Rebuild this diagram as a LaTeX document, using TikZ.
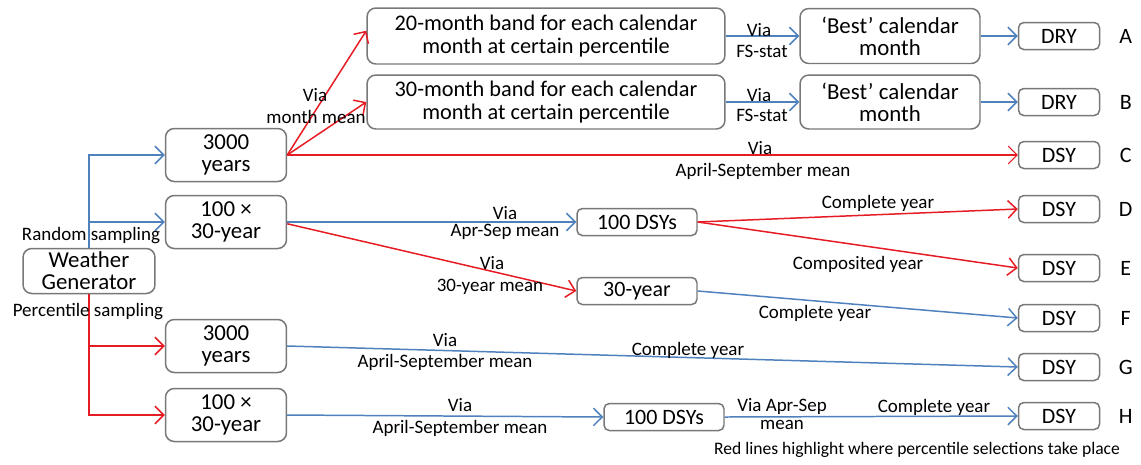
\documentclass[tikz,border=0pt]{standalone}
\usepackage{fontspec}
\setmainfont{Carlito}
\usetikzlibrary{arrows.meta}
\definecolor{lineblue}{RGB}{79,129,189}
\definecolor{linered}{RGB}{230,28,36}
\definecolor{boxgray}{RGB}{120,120,120}
\newcommand{\fs}[2]{\fontsize{#1}{#2}\selectfont}

\begin{document}
\begin{tikzpicture}[x=0.02cm,y=-0.02cm,>={Straight Barb[length=5pt,width=10pt]},
                    line width=0.85pt]
  \tikzstyle{box}=[draw=boxgray,rounded corners=5pt,align=center,inner sep=0pt,
                   text=black,font=\fs{13}{12.4}]
  \tikzstyle{srcbox}=[box,minimum width=2.42cm,minimum height=1.06cm]
  \tikzstyle{outbox}=[box,rounded corners=3pt,minimum width=1.62cm,minimum height=0.54cm,font=\fs{12.5}{12}]
  \tikzstyle{lbl}=[inner sep=0pt,align=center,font=\fs{10.8}{12}]
  \tikzstyle{blu}=[->,draw=lineblue]
  \tikzstyle{rd}=[->,draw=linered]
  \useasboundingbox (0,0) rectangle (1141,464);

  % sources
  \node[box,minimum width=2.64cm,minimum height=0.9cm] (wg) at (89,271) {Weather\\Generator};
  \node[srcbox] (r3k)  at (226,155) {3000\\years};
  \node[srcbox] (r100) at (226,222) {100 ×\\30-year};
  \node[srcbox] (p3k)  at (226,346) {3000\\years};
  \node[srcbox] (p100) at (226,415) {100 ×\\30-year};

  % intermediate steps
  \node[box,minimum width=7.16cm,minimum height=1.12cm,font=\fs{12.7}{12.8}] (band20) at (546,36) {20-month band for each calendar\\month at certain percentile};
  \node[box,minimum width=7.16cm,minimum height=1.08cm,font=\fs{12.7}{12.8}] (band30) at (546,102) {30-month band for each calendar\\month at certain percentile};
  \node[box,minimum width=3.6cm,minimum height=1.1cm,font=\fs{13}{12.4}] (bestA) at (890,36) {‘Best’ calendar\\month};
  \node[box,minimum width=3.6cm,minimum height=1.08cm,font=\fs{13}{12.4}] (bestB) at (890,102) {‘Best’ calendar\\month};
  \node[outbox,minimum width=2.4cm] (dsys)  at (637,222) {100 DSYs};
  \node[outbox,minimum width=2.4cm] (y30)   at (637,291) {30-year};
  \node[outbox,minimum width=2.4cm] (dsysH) at (664,417) {100 DSYs};

  % outputs
  \node[outbox] (A) at (1059,36)  {DRY};
  \node[outbox] (B) at (1059,102) {DRY};
  \node[outbox] (C) at (1059,155) {DSY};
  \node[outbox] (D) at (1059,209) {DSY};
  \node[outbox] (E) at (1059,268) {DSY};
  \node[outbox] (F) at (1059,318) {DSY};
  \node[outbox] (G) at (1059,367) {DSY};
  \node[outbox] (H) at (1059,416) {DSY};
  \foreach \n in {A,B,C,D,E,F,G,H}
    \node[font=\fs{12.5}{12}] at ([xshift=14.5pt]\n.east) {\n};

  % sampling
  \draw[blu] (wg.north) |- (r3k.west);
  \draw[blu] (wg.north) |- (r100.west);
  \draw[rd] (wg.south) |- (p3k.west);
  \draw[rd] (wg.south) |- (p100.west);
  \node[lbl] at (91,236) {Random sampling};
  \node[lbl] at (88,312) {Percentile sampling};

  % random branch
  \draw[rd] (r3k.east) -- ([yshift=3pt]band20.west);
  \draw[rd] (r3k.east) -- (band30.west);
  \node[lbl] at (315,95) {Via};
  \node[lbl] at (316,117) {month mean};
  \draw[blu] (band20) -- (bestA);
  \draw[blu] (band30) -- (bestB);
  \node[lbl] at (759,30) {Via};
  \node[lbl] at (762,51) {FS-stat};
  \node[lbl] at (759,95) {Via};
  \node[lbl] at (762,115) {FS-stat};
  \draw[blu] (bestA) -- (A);
  \draw[blu] (bestB) -- (B);
  \draw[rd,line width=0.6pt] (r3k.east) -- (C.west);
  \node[lbl] at (760,148) {Via};
  \node[lbl] at (763,171) {April-September mean};

  \draw[blu] (r100.east) -- (dsys.west);
  \node[lbl] at (505,213) {Via};
  \node[lbl] at (505,232) {Apr-Sep mean};
  \draw[rd] ([yshift=-1pt]r100.east) -- (y30.west);
  \node[lbl] at (492,263) {Via};
  \node[lbl] at (490,287) {30-year mean};
  \draw[rd] (dsys.east) -- (D.west);
  \node[lbl] at (878,203) {Complete year};
  \draw[rd] (dsys.east) -- (E.west);
  \node[lbl] at (858,264) {Composited year};
  \draw[blu] (y30.east) -- (F.west);
  \node[lbl] at (815,313) {Complete year};

  % percentile branch
  \draw[blu] (p3k.east) -- (G.west);
  \node[lbl] at (445,340) {Via};
  \node[lbl] at (445,362) {April-September mean};
  \node[lbl] at (688,350) {Complete year};
  \draw[blu] (p100.east) -- (dsysH.west);
  \node[lbl] at (460,405) {Via};
  \node[lbl] at (460,428) {April-September mean};
  \draw[blu] (dsysH.east) -- (H.west);
  \node[lbl] at (782,406) {Via Apr-Sep};
  \node[lbl] at (782,425) {mean};
  \node[lbl] at (934,407) {Complete year};

  \node[lbl,font=\fs{10}{11}] at (917,450) {Red lines highlight where percentile selections take place};
\end{tikzpicture}
\end{document}
